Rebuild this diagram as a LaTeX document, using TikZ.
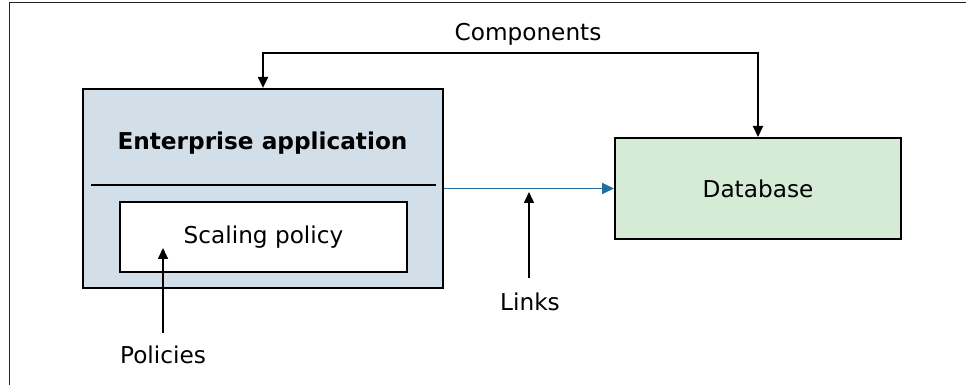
\documentclass[tikz,border=0pt]{standalone}
\usepackage{fontspec}
\setmainfont{DejaVu Sans}
\usepackage{xcolor}
\definecolor{appfill}{HTML}{D2DFE8}
\definecolor{dbfill}{HTML}{D6EBD6}
\definecolor{linkblue}{HTML}{1F6FA5}
\definecolor{framegray}{HTML}{222222}
\usepackage{tikz}
\usetikzlibrary{arrows.meta,positioning}

\begin{document}
\begin{tikzpicture}[
  x=0.5pt, y=-0.5pt,
  font=\fontsize{11.6}{14}\selectfont,
  >={Triangle[length=5.5pt,width=5pt]},
  block/.style={draw=black, line width=1.1pt, inner sep=0pt,
                align=center},
  conn/.style={draw=black,line width=0.8pt,->},
  link/.style={draw=linkblue,line width=0.9pt,
               -{Triangle[length=6pt,width=5.5pt]}}
]
  \useasboundingbox (0,0) rectangle (966,385);
  \draw[framegray,line width=0.5pt] (9.5,2.5) rectangle (1000,420);

  % enterprise application
  \node[block,fill=appfill,minimum width=180pt,minimum height=99.5pt]
    (app) at (263,188.5) {};
  \node[font=\fontsize{11.6}{14}\selectfont\bfseries] (apptitle) at (262.5,143)
    {Enterprise application};
  \draw[line width=1pt] (91,185) -- (436,185);
  \node[block,fill=white,line width=0.8pt,
        minimum width=143.5pt,minimum height=35pt]
    (policy) at (263.5,237) {Scaling policy};

  % database
  \node[block,fill=dbfill,line width=1pt,
        minimum width=143pt,minimum height=50.5pt]
    (db) at (758,188.5) {Database};

  % components
  \node (comptext) at (528,34) {Components};
  \coordinate (bus) at (511,53.5);
  \draw[conn,<->,line width=1pt] (app.north) |- (bus) -| (db.north);

  % links
  \draw[link] (app.east) -- (db.west);
  \node (links) at (530,302) {Links};
  \coordinate (linkfoot) at (529,278);
  \coordinate (linktip) at (529,192);
  \draw[conn] (linkfoot) -- (linktip);

  % policies
  \node (policies) at (163,355) {Policies};
  \coordinate (polfoot) at (163,333);
  \coordinate (poltip) at (163,248);
  \draw[conn] (polfoot) -- (poltip);

\end{tikzpicture}
\end{document}
